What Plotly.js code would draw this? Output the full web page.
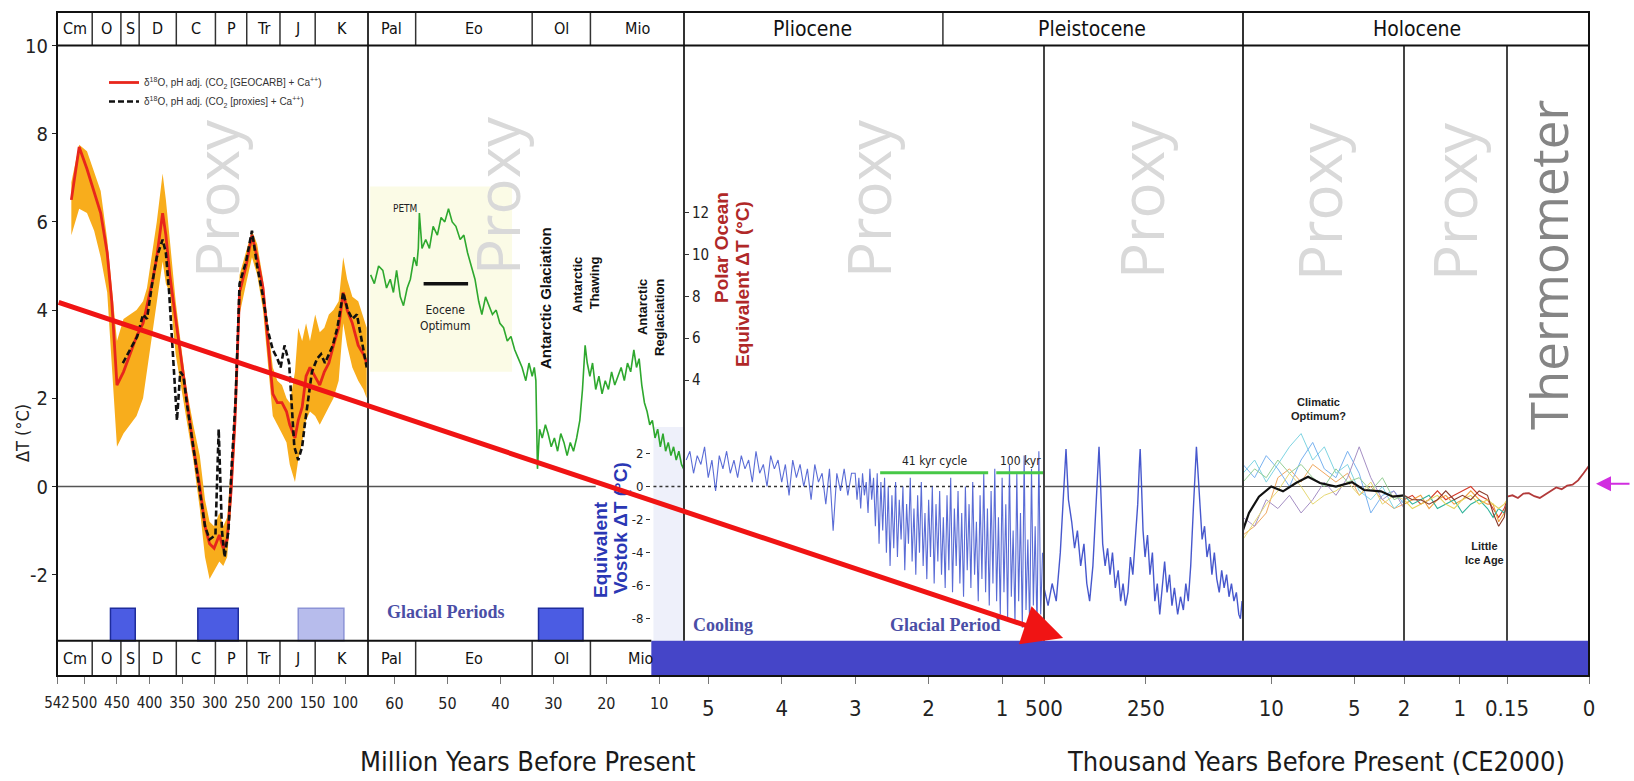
<!DOCTYPE html>
<html><head><meta charset="utf-8">
<script src="https://cdn.plot.ly/plotly-3.0.1.min.js"></script>
<style>html,body{margin:0;padding:0;background:#fff}#chart{width:1634px;height:781px}</style>
</head><body><div id="chart"></div>
<script>
// ---------------- DATA ----------------
// Panel A: Phanerozoic (Ma)
const redMa = [520,508,496,485,475,465,458,450,440,430,420,410,404,395,389,380,375,369,360,350,343,333,323,315,308,301,293,287,281,275,269,262,252,243,235,226,218,211,204,197,190,185,177,172,166,160,154,146,139,132,125,118,110,103,97,89,80,72,67];
const redT = [6.5,7.7,7.2,6.7,6.2,5.3,4.2,2.3,2.6,3.0,3.4,3.7,4.1,4.7,5.2,6.2,5.7,4.8,3.8,2.7,1.9,0.9,0.0,-0.9,-1.3,-1.4,-1.1,-1.4,-1.2,-0.1,1.5,4.4,5.0,5.7,5.2,4.5,3.2,2.1,1.9,1.9,1.7,1.4,1.1,1.5,1.8,2.5,2.7,2.5,2.3,2.6,2.8,3.2,3.6,4.4,4.0,3.7,3.2,3.0,2.8];
const bandUp = [6.9,7.75,7.6,7.1,6.7,5.6,4.6,3.3,3.8,3.9,4.0,4.2,4.5,5.4,6.0,7.1,6.5,5.6,4.2,3.0,2.2,1.4,0.7,-0.3,-0.8,-0.9,-0.6,-0.9,-0.7,0.5,2.0,4.8,5.3,5.8,5.5,4.7,3.6,2.7,2.4,2.3,2.0,1.9,2.6,3.6,3.3,3.7,3.3,3.9,3.5,3.6,3.9,4.0,4.2,5.2,4.7,4.3,4.2,3.8,3.6];
const bandLo = [5.7,6.3,6.2,5.8,5.2,4.4,2.8,0.9,1.2,1.4,1.6,2.0,2.6,3.5,4.2,5.1,4.6,4.4,3.0,2.1,1.5,0.6,-0.5,-1.6,-2.1,-1.9,-1.7,-1.8,-1.6,-0.5,1.0,3.9,4.6,5.2,4.8,4.0,2.7,1.6,1.4,1.2,1.0,0.5,0.1,0.6,1.0,1.5,1.7,1.6,1.4,1.6,1.8,2.0,2.4,3.7,3.2,2.7,2.4,2.2,2.0];
const blackMa = [441,430,419,410,404,396,389,380,375,370,364,358,353,348,343,333,323,315,308,299,294,289,285,279,274,268,262,252,243,235,226,218,211,204,199,193,186,182,178,172,166,162,157,151,143,137,131,125,119,112,103,96,89,82,77,72,67];
const blackT = [2.8,3.1,3.4,3.9,3.8,4.6,5.2,5.6,5.3,4.4,3.0,1.5,2.6,2.5,1.9,0.9,0.0,-0.9,-1.2,-1.1,1.3,-1.0,-1.6,-1.0,0.5,2.0,4.6,5.1,5.8,5.0,4.3,3.5,3.1,2.9,2.7,3.2,2.8,1.7,0.9,0.6,0.9,1.4,2.0,2.6,2.9,3.0,2.8,3.0,3.2,3.6,4.4,4.0,3.8,3.9,3.5,3.1,2.7];

// Panel B: Cenozoic (Ma), green polar-ocean record on main ΔT scale
const greenMa = [64.5,63.8,63.0,62.2,61.5,60.8,60.2,59.6,58.9,58.3,57.6,57.0,56.3,55.8,55.5,55.3,54.8,54.1,53.4,52.7,51.9,51.2,50.5,49.8,49.1,48.4,47.6,46.9,46.2,45.5,44.8,44.1,43.5,42.8,42.2,41.5,40.8,40.1,39.4,38.7,38.0,37.3,36.6,35.9,35.2,34.6,34.0,33.6,33.3,33.0,32.6,32.1,31.5,31.0,30.4,29.8,29.2,28.6,28.0,27.4,26.8,26.2,25.6,25.0,24.5,24.0,23.6,23.1,22.6,22.0,21.4,20.8,20.2,19.6,19.0,18.4,17.8,17.2,16.6,16.0,15.4,14.8,14.3,13.8,13.3,12.8,12.3,11.8,11.3,10.8,10.3,9.8,9.3,8.8,8.3,7.8,7.3,6.8,6.3,5.8,5.4];
const greenT = [4.8,4.6,5.0,4.9,4.5,4.7,4.4,4.9,4.3,4.1,4.5,4.7,5.2,5.0,5.4,6.2,5.4,5.6,5.4,5.9,5.7,6.1,6.0,6.3,6.0,5.9,5.6,5.7,5.3,5.0,4.7,4.2,3.9,4.3,4.1,3.9,4.0,3.7,3.6,3.3,3.4,3.1,2.9,2.7,2.4,2.8,2.5,2.7,2.4,0.4,1.3,1.1,1.4,1.2,0.9,1.1,0.8,1.2,1.0,0.7,1.0,0.8,1.1,1.5,2.2,3.2,2.8,2.5,2.8,2.2,2.5,2.1,2.4,2.2,2.6,2.3,2.5,2.7,2.4,2.8,2.6,3.1,2.7,2.9,2.3,1.9,1.7,1.4,1.5,1.1,1.3,0.9,1.2,0.8,1.0,0.7,0.9,0.6,0.8,0.5,0.4];

// Panel C: Pliocene-Pleistocene (Ma)
const plioMa = [5.30,5.25,5.20,5.15,5.10,5.05,5.00,4.95,4.90,4.85,4.80,4.75,4.70,4.65,4.60,4.55,4.50,4.45,4.40,4.35,4.30,4.25,4.20,4.15,4.10,4.05,4.00,3.95,3.90,3.85,3.80,3.75,3.70,3.65,3.60,3.55,3.50,3.45,3.40,3.35,3.30,3.25,3.20,3.15,3.10,3.05,
3.000,2.975,2.950,2.925,2.900,2.875,2.850,2.825,2.800,2.775,2.750,2.725,2.700,2.675,2.650,2.625,2.600,2.575,2.550,2.525,2.500,2.475,2.450,2.425,2.400,2.375,2.350,2.325,2.300,2.275,2.250,2.225,2.200,2.175,2.150,2.125,2.100,2.075,2.050,2.025,2.000,1.975,1.950,1.925,1.900,1.875,1.850,1.825,1.800,1.775,1.750,1.725,1.700,1.675,1.650,1.625,1.600,1.575,1.550,1.525,1.500,1.475,1.450,1.425,1.400,1.375,1.350,1.325,1.300,1.275,1.250,1.225,1.200,1.175,1.150,1.125,1.100,1.075,1.050,1.025,1.000,0.975,0.950,0.925,0.900,0.875,0.850,0.825,0.800,0.775,0.750,0.725,0.700,0.675,0.650,0.625,0.600,0.575,0.550,0.525,0.500,0.475,0.450];
const plioT = [0.6,0.8,0.3,0.7,0.5,0.9,0.2,0.6,-0.1,0.7,0.4,0.8,0.3,0.6,0.2,0.7,0.4,0.6,0.1,0.8,0.3,0.5,0.0,0.7,0.4,0.6,0.1,0.5,-0.2,0.6,0.2,0.5,0.0,0.4,-0.3,0.5,0.1,0.3,-0.4,0.4,-1.0,0.3,-0.1,0.4,-0.2,0.3,
0.3,-0.3,0.2,-0.5,0.3,-0.2,0.1,-0.6,0.4,-0.3,0.2,-0.9,0.3,-1.3,0.1,-1.0,0.2,-1.5,0.0,-1.8,-0.2,-1.4,0.1,-1.6,-0.3,-1.2,0.0,-1.9,-0.4,-1.3,0.2,-1.7,-0.5,-2.0,-0.2,-1.5,0.1,-1.8,-0.6,-2.1,-0.3,-1.6,0.0,-2.2,-0.4,-1.7,-0.1,-2.0,-0.7,-2.3,-0.2,-1.9,0.2,-2.4,-0.5,-1.8,-0.1,-2.2,-0.6,-2.5,0.0,-1.9,-0.4,-2.3,0.1,-2.0,-0.8,-2.6,-0.2,-2.1,0.3,-2.4,-0.5,-2.7,-0.1,-2.2,0.4,-2.6,-0.7,-2.9,0.2,-2.4,-0.4,-3.0,0.5,-2.5,-1.0,-3.1,0.3,-2.6,-0.6,-3.2,0.7,-2.8,-1.2,-3.2,0.4,-2.7,-0.9,-3.3,0.8,-2.9,-1.5];
const cyc41Ma = [2.66, 1.19];
const cyc100Ma = [1.08, 0.43];
const cycT = 0.31;

// Panel D: late Pleistocene (kyr)
const vostokKyr = [500,490,480,470,460,452,446,440,432,425,418,410,402,395,388,380,374,368,365,361,356,350,344,338,332,325,318,312,306,300,294,288,282,276,270,266,264,261,257,252,246,240,234,228,222,216,210,204,198,192,186,180,172,165,158,152,146,140,134,129,126,122,117,112,106,100,94,88,82,76,70,64,58,52,46,40,34,28,22,18,14,11.7];
const vostokT = [-2.3,-2.7,-2.2,-2.6,-1.5,-0.2,0.85,-0.3,-0.8,-1.4,-1.0,-1.8,-1.3,-2.2,-2.6,-1.8,-0.6,0.3,0.9,0.0,-1.3,-1.8,-1.4,-2.0,-1.5,-2.3,-1.9,-2.6,-2.2,-2.7,-2.4,-1.6,-2.0,-1.2,-0.4,0.5,0.85,0.1,-1.0,-1.6,-1.1,-2.0,-1.5,-2.6,-2.2,-2.9,-2.3,-1.7,-2.4,-2.0,-2.7,-2.3,-2.9,-2.5,-2.8,-2.2,-2.6,-1.8,-0.6,0.5,0.9,0.3,-0.6,-1.2,-0.9,-1.6,-1.3,-2.0,-1.5,-2.1,-2.4,-1.9,-2.3,-2.0,-2.5,-2.2,-2.6,-2.4,-2.9,-3.0,-2.6,-2.9];

// Panel E: Holocene (kyr)
const holoKyr = [11.7,11.0,10.3,9.6,8.9,8.2,7.5,6.8,6.1,5.4,4.7,4.0,3.3,2.6,2.0];
const holoS1 = [-1.1,-0.9,-0.6,0.2,0.4,0.1,0.5,0.3,0.1,0.3,-0.2,0.0,-0.3,-0.5,-0.4];
const holoS2 = [0.3,0.6,0.1,0.5,0.9,1.2,0.6,0.9,0.3,0.5,-0.1,-0.3,0.0,-0.5,-0.3];
const holoS3 = [0.5,0.2,0.7,0.4,0.0,0.6,1.0,0.4,0.2,0.8,0.3,-0.6,-0.2,-0.1,-0.4];
const holoS4 = [-0.7,-0.9,-0.3,-0.5,-0.2,-0.6,-0.3,0.1,-0.2,0.2,0.9,0.2,-0.3,-0.1,-0.5];
const holoS5 = [-1.2,-0.8,-0.4,-0.1,0.3,0.0,-0.4,-0.2,-0.1,0.1,-0.2,0.1,-0.4,-0.2,-0.3];
const holoS6 = [0.1,0.4,0.2,0.6,0.3,0.5,0.2,0.0,0.4,0.1,0.2,-0.1,0.2,-0.3,-0.2];
const holoMeanKyr = [11.7,11.34,10.74,10.0,9.29,8.51,7.78,7.06,6.1,5.13,4.41,3.39,2.66,2.0];
const holoMeanT = [-0.99,-0.6,-0.23,0.0,-0.11,0.08,0.22,0.08,0.0,0.1,-0.08,-0.11,-0.23,-0.2];

// Panel F: last 2 kyr
const lateKyr = [2.0,1.85,1.7,1.55,1.4,1.25,1.1,0.95,0.8,0.65,0.5,0.4,0.3,0.2,0.15];
const lateF1 = [-0.3,-0.2,-0.4,-0.3,-0.1,-0.3,-0.2,-0.1,0.0,-0.2,-0.3,-0.5,-0.7,-0.5,-0.3];
const lateF2 = [-0.4,-0.3,-0.2,-0.5,-0.3,-0.2,-0.4,-0.3,-0.1,-0.3,-0.4,-0.4,-0.8,-0.6,-0.4];
const lateF3 = [-0.2,-0.4,-0.3,-0.2,-0.5,-0.4,-0.3,-0.6,-0.4,-0.3,-0.5,-0.7,-0.5,-0.6,-0.4];
const lateF4 = [-0.3,-0.5,-0.4,-0.3,-0.2,-0.4,-0.5,-0.3,-0.2,-0.4,-0.3,-0.4,-0.5,-0.4,-0.3];
const lateF5 = [-0.2,-0.3,-0.3,-0.4,-0.3,-0.1,-0.3,-0.2,-0.3,-0.1,-0.2,-0.6,-0.9,-0.7,-0.3];

// Panel G: instrumental (kyr)
const instKyr = [0.15,0.14,0.13,0.12,0.11,0.10,0.09,0.08,0.07,0.06,0.05,0.04,0.03,0.02,0.01,0.0];
const instT = [-0.23,-0.2,-0.26,-0.16,-0.15,-0.22,-0.26,-0.18,-0.12,-0.02,-0.06,0.02,0.04,0.14,0.3,0.47];

// Geological periods / epochs
const periodsA = ['Cm','O','S','D','C','P','Tr','J','K'];
const periodStartA = [542,488,444,416,359,299,251,200,146];
const periodEndA = [488,444,416,359,299,251,200,146,65];
const epochsB = ['Pal','Eo','Ol','Mio'];
const epochStartB = [65,56,34,23];
const epochEndB = [56,34,23,5.33];
const plioPleistoBoundary = 1.806;

// Glacial period boxes
const glacialA = [[460,422,'dark'],[326,264,'dark'],[172,102,'light']];
const glacialB = [[32.8,24.4]];
const glacialBandStartMa = 11.5;

// Tick labels
const tickA = [542,500,450,400,350,300,250,200,150,100];
const tickB = [60,50,40,30,20,10];
const tickC = [5,4,3,2,1];
const tickD = [500,250];
const tickE = [10,5,2];
const tickF = [1,0.15];
const tickG = [0];
const yTicks = [-2,0,2,4,6,8,10];
const polarTicks = [4,6,8,10,12];
const vostokTicks = [2,0,-2,-4,-6,-8];

// ---------------- LAYOUT HELPERS ----------------
const W=1634, H=781, ML=57, MR=45, MT=12, MB=105;
const PW = W-ML-MR, PH = H-MT-MB;
const xp = p => (p-ML)/PW;
const yp = p => (H-MB-p)/PH;
const Y0PX = 486.5, YPU = 44.1;
const yTop = (Y0PX-MT)/YPU, yBot = -(H-MB-Y0PX)/YPU;
const hdrY = 10, rowY = -3.5;
const NARROW = "Liberation Sans Narrow, DejaVu Sans Condensed, Arial Narrow, sans-serif";
const SANS = "Liberation Sans, Arial, sans-serif";

const panelDefs = [
  ['x', 57, 368, [542,65], tickA, 15],
  ['x2', 368, 684, [65,5.33], tickB, 16],
  ['x3', 684, 1044, [5.33,0.43], tickC, 22],
  ['x4', 1044, 1243, [500,11.7], tickD, 22],
  ['x5', 1243, 1404, [11.7,2], tickE, 22],
  ['x6', 1404, 1507, [2,0.15], tickF, 22],
  ['x7', 1507, 1589, [0.15,0], tickG, 22]
];

const layout = {
  width: W, height: H,
  margin: {l:ML, r:MR, t:MT, b:MB, pad:0},
  paper_bgcolor:'#fff', plot_bgcolor:'#fff',
  font: {family: SANS, color:'#222'},
  hovermode: false,
  showlegend: true,
  legend: {x: xp(104), y: yp(68), xanchor:'left', yanchor:'top', bgcolor:'rgba(0,0,0,0)',
           font:{family: SANS, size:10, color:'#333'}, itemwidth:30, tracegroupgap:0},
  yaxis: {domain:[0,1], range:[yBot, yTop], anchor:'x', tickmode:'array', tickvals:yTicks,
          ticktext: yTicks.map(v=>String(v)), ticks:'outside', ticklen:4, tickcolor:'#222',
          showgrid:false, zeroline:false, showline:false,
          tickfont:{family:NARROW, size:20, color:'#222'}},
  yaxis2: {overlaying:'y', anchor:'free', position: xp(684), side:'right',
           range:[4-(H-MB-380)/20.9, 4+(380-MT)/20.9], tickmode:'array', tickvals:polarTicks,
           ticktext: polarTicks.map(String), ticks:'outside', ticklen:4, tickcolor:'#333',
           showgrid:false, zeroline:false, showline:false,
           tickfont:{family:NARROW, size:15, color:'#222'}},
  yaxis3: {overlaying:'y', anchor:'free', position: xp(650), side:'left',
           range:[-(H-MB-Y0PX)/16.5, (Y0PX-MT)/16.5], tickmode:'array', tickvals:vostokTicks,
           ticktext: vostokTicks.map(String), ticks:'outside', ticklen:4, tickcolor:'#333',
           showgrid:false, zeroline:false, showline:false,
           tickfont:{family:NARROW, size:13, color:'#222'}},
  shapes: [], annotations: []
};
panelDefs.forEach(([id,p0,p1,rng,tv,fs])=>{
  const key = id==='x' ? 'xaxis' : 'xaxis'+id.slice(1);
  layout[key] = {domain:[xp(p0), xp(p1)], range:rng, anchor:'y', tickmode:'array', tickvals:tv,
    ticktext: tv.map(String), ticks:'outside', ticklen:7, tickcolor:'#777', tickwidth:1, tickangle:0,
    ticklabelstandoff:6,
    showgrid:false, zeroline:false, showline:false,
    tickfont:{family:NARROW, size:fs, color:'#222'}};
});

const S = layout.shapes, A = layout.annotations;
function line(xref,x0,x1,yref,y0,y1,color,width,dash,layer){
  S.push({type:'line',xref,yref,x0,x1,y0,y1,line:{color,width,dash:dash||'solid'},layer:layer||'above'});
}
function rect(xref,x0,x1,yref,y0,y1,fill,lc,lw,layer){
  S.push({type:'rect',xref,yref,x0,x1,y0,y1,fillcolor:fill,line:{color:lc||fill,width:lw||0},layer:layer||'below'});
}

// backgrounds
rect('x2',64.6,37.8,'y',2.6,6.8,'#fbfbe6');
rect('x2',11.1,5.33,'y',rowY,1.35,'#eef0fa');
// zero lines
line('x',542,65,'y',0,0,'#555',1.5,'solid','below');
line('x2',65,22,'y',0,0,'#555',1.5,'solid','below');
line('x2',11.1,5.33,'y',0,0,'#333',1.5,'dot','below');
line('x3 domain',0,1,'y',0,0,'#333',1.5,'dot','below');
line('x4 domain',0,1,'y',0,0,'#555',1.5,'solid','below');
line('x5 domain',0,1,'y',0,0,'#666',1.2,'solid','below');
line('x6 domain',0,1,'y',0,0,'#bbb',1,'solid','below');
line('x7 domain',0,1,'y',0,0,'#bbb',1,'solid','below');
// Eocene optimum bar
line('x2',54.5,46.1,'y',4.6,4.6,'#111',3.5);
// cycle bars
line('x3',cyc41Ma[0],cyc41Ma[1],'y',cycT,cycT,'#47c847',3);
line('x3',cyc100Ma[0],cyc100Ma[1],'y',cycT,cycT,'#47c847',3);
// glacial boxes
glacialA.forEach(([a,b,k])=>{
  if(k==='dark') rect('x',a,b,'y',rowY,-2.76,'#4b5ce3','#1e2c9c',1.5,'above');
  else rect('x',a,b,'y',rowY,-2.76,'#b7bcec','#8c93d6',1.5,'above');
});
glacialB.forEach(([a,b])=>rect('x2',a,b,'y',rowY,-2.76,'#4b5ce3','#1e2c9c',1.5,'above'));
// bottom glacial band
rect('x2',glacialBandStartMa,5.33,'y',yBot,rowY,'#4545c8',null,0,'above');
['x3','x4','x5','x6','x7'].forEach(ax=>rect(ax+' domain',0,1,'y',yBot,rowY,'#4545c8',null,0,'above'));
// header / bottom-row cell dividers
periodStartA.slice(1).forEach(m=>{
  line('x',m,m,'y',hdrY,yTop,'#333',1.5);
  line('x',m,m,'y',yBot,rowY,'#333',1.5);
});
epochStartB.slice(1).forEach(m=>{
  line('x2',m,m,'y',hdrY,yTop,'#333',1.5);
  line('x2',m,m,'y',yBot,rowY,'#333',1.5);
});
line('x3',plioPleistoBoundary,plioPleistoBoundary,'y',hdrY,yTop,'#333',1.5);
// panel dividers
line('x2 domain',0,0,'paper',0,1,'#333',2);
line('x3 domain',0,0,'y',rowY,yTop,'#333',2);
line('x4 domain',0,0,'y',rowY,hdrY,'#444',2);
line('x5 domain',0,0,'y',rowY,yTop,'#333',2);
line('x6 domain',0,0,'y',rowY,hdrY,'#444',2);
line('x7 domain',0,0,'y',rowY,hdrY,'#444',2);
// horizontal rules & frame
line('paper',0,1,'y',hdrY,hdrY,'#111',2);
line('x',542,65,'y',rowY,rowY,'#111',2);
line('x2',65,glacialBandStartMa,'y',rowY,rowY,'#111',2);
S.push({type:'rect',xref:'paper',yref:'paper',x0:0,x1:1,y0:0,y1:1,line:{color:'#111',width:2},fillcolor:'rgba(0,0,0,0)',layer:'above'});

// ---------------- ANNOTATIONS ----------------
function txt(text,xref,x,yref,y,font,extra){
  A.push(Object.assign({text,xref,x,yref,y,showarrow:false,font,xanchor:'center',yanchor:'middle'},extra||{}));
}
const hdrTextY = (hdrY+yTop)/2, rowTextY = (rowY+yBot)/2;
periodsA.forEach((p,i)=>{
  const c=(periodStartA[i]+periodEndA[i])/2;
  txt(p,'x',c,'y',hdrTextY,{family:NARROW,size:16,color:'#111'});
  txt(p,'x',c,'y',rowTextY,{family:NARROW,size:16,color:'#111'});
});
epochsB.forEach((p,i)=>{
  const c=(epochStartB[i]+epochEndB[i])/2;
  txt(p,'x2',c,'y',hdrTextY,{family:NARROW,size:16,color:'#111'});
  const cb = i===3 ? 13.6 : c;
  txt(p,'x2',cb,'y',rowTextY,{family:NARROW,size:16,color:'#111'});
});
txt('Pliocene','paper',xp(812),'y',hdrTextY,{family:NARROW,size:21,color:'#111'});
txt('Pleistocene','paper',xp(1092),'y',hdrTextY,{family:NARROW,size:21,color:'#111'});
txt('Holocene','paper',xp(1416.5),'y',hdrTextY,{family:NARROW,size:21,color:'#111'});

// Proxy / Thermometer
const proxyFont = {family:'Open Sans, Noto Sans, sans-serif', size:60, color:'#d9d9d9'};
[[216,199],[497,196],[868,198],[1141,200],[1319,202],[1454,202]].forEach(([x,y])=>{
  txt('Proxy','paper',xp(x),'paper',yp(y),proxyFont,{textangle:-90});
});
txt('Thermometer','paper',xp(1548),'paper',yp(265),{family:'Open Sans, Noto Sans, sans-serif',size:51,color:'#858585'},{textangle:-90});

// rotated event labels
txt('Antarctic Glaciation','paper',xp(545),'paper',yp(298),{family:SANS,size:15,color:'#111',weight:700},{textangle:-90});
txt('Antarctic<br>Thawing','paper',xp(586),'paper',yp(285),{family:SANS,size:13,color:'#111',weight:700},{textangle:-90,align:'right'});
txt('Antarctic<br>Reglaciation','paper',xp(651),'paper',yp(318),{family:SANS,size:13,color:'#111',weight:700},{textangle:-90,align:'right'});
txt('Equivalent','paper',xp(600),'paper',yp(550),{family:SANS,size:19,color:'#2a37b4',weight:700},{textangle:-90});
txt('Vostok ΔT (°C)','paper',xp(620),'paper',yp(528),{family:SANS,size:19,color:'#2a37b4',weight:700},{textangle:-90});
txt('Polar Ocean','paper',xp(721),'paper',yp(248),{family:SANS,size:19,color:'#b02828',weight:700},{textangle:-90});
txt('Equivalent ΔT (°C)','paper',xp(742),'paper',yp(284),{family:SANS,size:19,color:'#b02828',weight:700},{textangle:-90});

// small labels
txt('PETM','paper',xp(405),'paper',yp(208),{family:NARROW,size:10,color:'#222'});
txt('Eocene<br>Optimum','paper',xp(445),'paper',yp(318),{family:NARROW,size:12,color:'#222'});
const serifBlue = {family:'Liberation Serif, DejaVu Serif, serif',size:18,color:'#4a4ea6',weight:700};
txt('Glacial Periods','paper',xp(445),'paper',yp(612),serifBlue);
txt('Cooling','paper',xp(723),'paper',yp(625),serifBlue);
txt('Glacial Period','paper',xp(945),'paper',yp(625),serifBlue);
txt('41 kyr cycle','paper',xp(934),'paper',yp(461),{family:NARROW,size:12,color:'#222'});
txt('100 kyr','paper',xp(1020),'paper',yp(461),{family:NARROW,size:12,color:'#222'});
txt('Climatic<br>Optimum?','paper',xp(1318),'paper',yp(409),{family:SANS,size:11,color:'#222',weight:700});
txt('Little<br>Ice Age','paper',xp(1484),'paper',yp(553),{family:SANS,size:11,color:'#222',weight:700},{bgcolor:'#fff'});

// axis titles
txt('ΔT (°C)','paper',xp(22),'paper',yp(433),{family:NARROW,size:18,color:'#222'},{textangle:-90});
txt('Million Years Before Present','paper',xp(527),'paper',yp(761),{family:NARROW,size:27,color:'#1a1a1a'});
txt('Thousand Years Before Present (CE2000)','paper',xp(1316),'paper',yp(761),{family:NARROW,size:27,color:'#1a1a1a'});

// arrows
A.push({xref:'x4',yref:'y',x:453,y:-3.435,ax:-1006,ay:-336,axref:'pixel',ayref:'pixel',text:'',showarrow:true,
        arrowcolor:'#f01414',arrowwidth:5,arrowhead:2,arrowsize:1.6});
A.push({xref:'paper',yref:'y',x:xp(1596),y:0.06,ax:35,ay:0,text:'',showarrow:true,
        arrowcolor:'#d12ee0',arrowwidth:2,arrowhead:2,arrowsize:1.5});

// ---------------- TRACES ----------------
const traces = [];
traces.push({x: redMa.concat(redMa.slice().reverse()), y: bandUp.concat(bandLo.slice().reverse()),
  xaxis:'x', yaxis:'y', mode:'lines', fill:'toself', fillcolor:'#f8ad1c', line:{width:0, color:'#f8ad1c'}, showlegend:false});
traces.push({x: redMa, y: redT, xaxis:'x', yaxis:'y', mode:'lines', line:{color:'#e8261c', width:2.8},
  name:'δ<sup>18</sup>O, pH adj. (CO<sub>2</sub> [GEOCARB] + Ca<sup>++</sup>)'});
traces.push({x: blackMa, y: blackT, xaxis:'x', yaxis:'y', mode:'lines', line:{color:'#111', width:2.6, dash:'6px,3px'},
  name:'δ<sup>18</sup>O, pH adj. (CO<sub>2</sub> [proxies] + Ca<sup>++</sup>)'});
traces.push({x: greenMa, y: greenT, xaxis:'x2', yaxis:'y', mode:'lines', line:{color:'#2ea82e', width:1.6}, showlegend:false});
traces.push({x: plioMa, y: plioT, xaxis:'x3', yaxis:'y', mode:'lines', line:{color:'#3d52cf', width:1.1}, opacity:0.85, showlegend:false});
traces.push({x: vostokKyr, y: vostokT, xaxis:'x4', yaxis:'y', mode:'lines', line:{color:'#3346c8', width:1.4}, opacity:0.9, showlegend:false});
const holoCols = ['#f0a860','#7fd4e2','#79b2f0','#a58fc4','#e6d874','#95cf95'];
[holoS1,holoS2,holoS3,holoS4,holoS5,holoS6].forEach((s,i)=>{
  traces.push({x: holoKyr, y: s, xaxis:'x5', yaxis:'y', mode:'lines', line:{color:holoCols[i], width:1}, showlegend:false});
});
traces.push({x: holoMeanKyr, y: holoMeanT, xaxis:'x5', yaxis:'y', mode:'lines', line:{color:'#111', width:2.2}, showlegend:false});
const lateCols = ['#d43b2a','#f0a040','#2fb39a','#e4d45a','#8a3a2a'];
[lateF1,lateF2,lateF3,lateF4,lateF5].forEach((s,i)=>{
  traces.push({x: lateKyr, y: s, xaxis:'x6', yaxis:'y', mode:'lines', line:{color:lateCols[i], width:1.1}, showlegend:false});
});
traces.push({x: instKyr, y: instT, xaxis:'x7', yaxis:'y', mode:'lines', line:{color:'#b23a3a', width:1.8}, showlegend:false});
// bind secondary axes
traces.push({x:[null], y:[null], xaxis:'x2', yaxis:'y2', mode:'lines', showlegend:false});
traces.push({x:[null], y:[null], xaxis:'x3', yaxis:'y3', mode:'lines', showlegend:false});

Plotly.newPlot('chart', traces, layout, {staticPlot:true, displayModeBar:false});
</script></body></html>
